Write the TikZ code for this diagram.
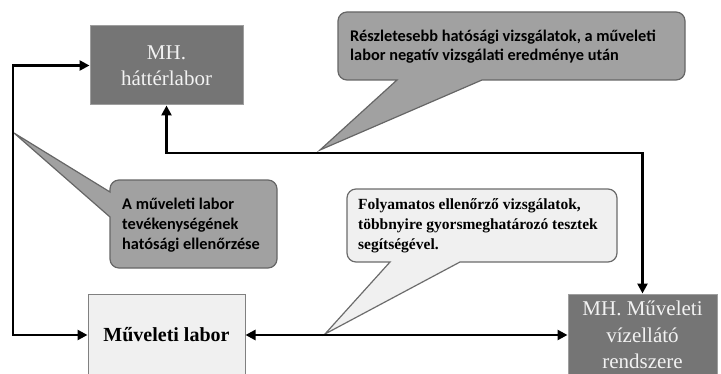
\documentclass[tikz,border=0pt]{standalone}
\usepackage{fontspec}
\setmainfont{Liberation Serif}
\newfontfamily\calloutfont{Carlito}
\usetikzlibrary{arrows.meta}

\tikzset{dark_box/.style={draw=black!38, fill=black!54, text=black!5, line width=1pt, inner sep=0pt, align=center, font=\fontsize{21}{26.5}\selectfont}}
\tikzset{light_box/.style={draw=black!50, fill=black!6, line width=1pt, inner sep=0pt, align=center, font=\bfseries\fontsize{20}{24}\selectfont}}
\tikzset{callout_dark/.style={draw=black!60, fill=black!37, line width=1.2pt}}
\tikzset{callout_light/.style={draw=black!58, fill=black!6, line width=1.2pt}}
\tikzset{callout_text/.style={inner sep=0pt, anchor=west, align=left}}
\tikzset{flow_arrow/.style={line width=2.9pt, {Triangle[length=10pt,width=10pt]}-{Triangle[length=10pt,width=10pt]}}}

\begin{document}
\begin{tikzpicture}[x=1pt, y=1pt]
    \useasboundingbox (0,0) rectangle (721,373);
    \clip (0,0) rectangle (721,373);
    % callouts
    \draw[callout_dark] (482,293) -- (676,293) arc[start angle=-90, end angle=0, radius=9] -- (685,352) arc[start angle=0, end angle=90, radius=9] -- (347,361) arc[start angle=90, end angle=180, radius=9] -- (338,302) arc[start angle=180, end angle=270, radius=9] -- (397,293) -- (320,223) -- cycle;
    \draw[callout_dark] (110,156) -- (110,114) arc[start angle=180, end angle=270, radius=9] -- (268,105) arc[start angle=270, end angle=360, radius=9] -- (277,184) arc[start angle=0, end angle=90, radius=9] -- (119,193) arc[start angle=90, end angle=180, radius=9] -- (110,181) -- (14,240) -- cycle;
    \draw[callout_light] (460,111) -- (608,111) arc[start angle=-90, end angle=0, radius=9] -- (617,175) arc[start angle=0, end angle=90, radius=9] -- (356,184) arc[start angle=90, end angle=180, radius=9] -- (347,120) arc[start angle=180, end angle=270, radius=9] -- (390,111) -- (325,39) -- cycle;
    \node[callout_text, font=\calloutfont\bfseries\fontsize{16.3}{19}\selectfont] (detail) at (350,326) {Részletesebb hatósági vizsgálatok, a műveleti\\labor negatív vizsgálati eredménye után};
    \node[callout_text, font=\calloutfont\bfseries\fontsize{16.3}{20}\selectfont] (control) at (122,148) {A műveleti labor\\tevékenységének\\hatósági ellenőrzése};
    \node[callout_text, font=\bfseries\fontsize{15.5}{20}\selectfont] (routine) at (358,147) {Folyamatos ellenőrző vizsgálatok,\\többnyire gyorsmeghatározó tesztek\\segítségével.};
    % boxes
    \node[dark_box, minimum width=153pt, minimum height=79pt] (hatter) at (166.5,307.5) {MH.\\háttérlabor};
    \node[light_box, minimum width=157pt, minimum height=82pt] (mlabor) at (166.5,38) {Műveleti labor};
    \node[dark_box, minimum width=149pt, minimum height=82pt] (mhvez) at (642.5,38) {MH. Műveleti\\vízellátó\\rendszere};
    % arrows
    \coordinate (loop) at (13,0);
    \coordinate (top_line) at (0,220);
    \draw[flow_arrow] (hatter.west) -- (hatter.west -| loop) |- (mlabor.west);
    \draw[flow_arrow] (hatter.south) |- (mhvez.north |- top_line) -- (mhvez.north);
    \draw[flow_arrow] (mlabor.east) -- (mlabor.east -| mhvez.west);
\end{tikzpicture}
\end{document}
